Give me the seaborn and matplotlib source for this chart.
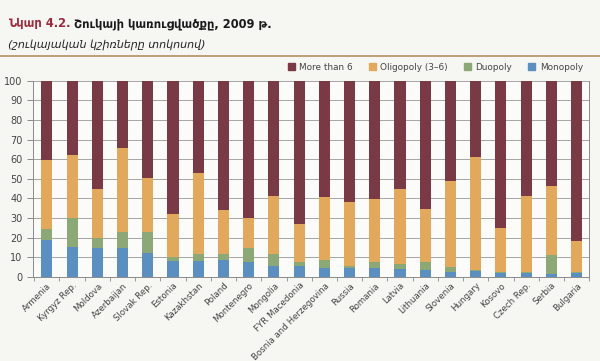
import seaborn as sns
import matplotlib.pyplot as plt
import pandas as pd
import numpy as np

# Market structure 2009, market shares in percent
countries = ['Armenia', 'Kyrgyz Rep.', 'Moldova', 'Azerbaijan', 'Slovak Rep.', 'Estonia',
             'Kazakhstan', 'Poland', 'Montenegro', 'Mongolia', 'FYR Macedonia',
             'Bosnia and Herzegovina', 'Russia', 'Romania', 'Latvia', 'Lithuania',
             'Slovenia', 'Hungary', 'Kosovo', 'Czech Rep.', 'Serbia', 'Bulgaria']
monopoly = [18.7, 15.3, 14.8, 14.8, 12.0, 8.0, 8.3, 8.5, 7.8, 5.8, 5.6,
            4.4, 4.6, 4.6, 3.8, 3.4, 2.7, 3.2, 1.9, 1.9, 1.7, 1.9]
duopoly = [5.9, 14.7, 5.1, 8.1, 10.9, 2.0, 3.2, 3.0, 7.1, 5.7, 2.2,
           4.1, 1.0, 3.2, 2.9, 4.1, 2.1, 0.3, 0.7, 0.8, 9.6, 0.8]
oligopoly = [35.2, 32.3, 24.9, 43.0, 27.5, 21.9, 41.7, 22.8, 15.3, 29.6, 19.0,
             32.1, 32.4, 32.1, 37.9, 27.3, 44.0, 57.7, 22.3, 38.6, 34.9, 15.6]
more_than_6 = [100 - a - b - c for a, b, c in zip(monopoly, duopoly, oligopoly)]

series = ['More than 6', 'Oligopoly (3–6)', 'Duopoly', 'Monopoly']
colors = {'More than 6': '#7a3a45', 'Oligopoly (3–6)': '#e2a95c',
          'Duopoly': '#8da877', 'Monopoly': '#5b8fc0'}

# cumulative heights, top segment first so the smaller ones are drawn over it
cum = {
    'Monopoly': np.array(monopoly),
    'Duopoly': np.array(monopoly) + np.array(duopoly),
    'Oligopoly (3–6)': np.array(monopoly) + np.array(duopoly) + np.array(oligopoly),
}
cum['More than 6'] = cum['Oligopoly (3–6)'] + np.array(more_than_6)

df = pd.DataFrame({'Country': countries})
for s in series:
    df[s] = cum[s]

bg = '#f6f6f3'
fig = plt.figure(figsize=(6, 3.61), dpi=100, facecolor=bg)
ax = fig.add_axes([0.055, 0.233, 0.927, 0.543])
ax.set_facecolor('#fbfbfa')

for s in series:
    sns.barplot(data=df, x='Country', y=s, color=colors[s], width=0.44,
                saturation=1, ax=ax, zorder=3)

ax.set_xlim(-0.55, len(countries) - 0.55)
ax.set_ylim(0, 100)
ax.set_yticks(range(0, 101, 10))
ax.yaxis.grid(True, color='#a5a5a5', linewidth=0.7, zorder=0)
ax.set_xlabel('')
ax.set_ylabel('')
ax.spines['top'].set_visible(False)
for side in ['bottom', 'right', 'left']:
    ax.spines[side].set_color('#8a8a8a')
    ax.spines[side].set_linewidth(0.7)
ax.tick_params(axis='y', labelsize=7, color='#8a8a8a', length=4, width=0.7,
               labelcolor='#444444')
ax.set_xticks(np.arange(len(countries)))
ax.set_xticklabels(countries, rotation=45, ha='right', rotation_mode='anchor',
                   fontsize=6.2, color='#444444')
ax.tick_params(axis='x', length=0, pad=3)
# minor ticks between categories
ax.set_xticks(np.arange(-0.5, len(countries), 1), minor=True)
ax.tick_params(axis='x', which='minor', length=3, color='#8a8a8a')

# legend
handles = [plt.Rectangle((0, 0), 1, 1, color=colors[s]) for s in series]
fig.legend(handles, series, loc='center right', bbox_to_anchor=(0.985, 0.814),
           ncol=4, frameon=False, fontsize=6.4, handlelength=0.8, handleheight=0.8,
           columnspacing=1.8, handletextpad=0.5, labelcolor='#444444')

# title block
t1 = fig.text(0.013, 0.935, 'Նկար 4.2.', fontsize=8.3, fontweight='bold', color='#9b2a3c',
              family='DejaVu Sans', va='center')
ax.annotate(' Շուկայի կառուցվածքը, 2009 թ.', xy=(1, 0.5), xycoords=t1,
            fontsize=8.3, fontweight='bold', color='#1a1a1a', family='DejaVu Sans',
            va='center', ha='left', annotation_clip=False)
fig.text(0.013, 0.875, '(շուկայական կշիռները տոկոսով)', fontsize=8, style='italic',
         color='#222222', family='DejaVu Sans', va='center')
fig.add_artist(plt.Line2D([0.0, 1.0], [0.845, 0.845], color='#b48f62', lw=1.2))

fig.savefig('out.png', dpi=100, facecolor=bg)
